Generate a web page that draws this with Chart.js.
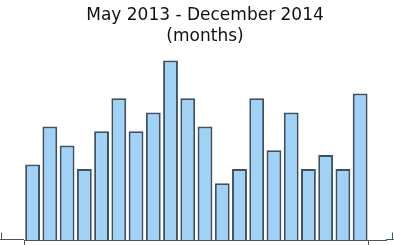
<!DOCTYPE html>
<html>
<head>
<meta charset="utf-8">
<script src="https://cdn.jsdelivr.net/npm/chart.js@4/dist/chart.umd.min.js"></script>
<style>
  html, body { margin: 0; padding: 0; background: #ffffff; }
  #wrap { width: 394px; height: 245px; }
</style>
</head>
<body>
<div id="wrap"><canvas id="c" width="394" height="245"></canvas></div>
<script>
const titleLines = ['May 2013 - December 2014', '(months)'];
const months = ['May 2013','Jun 2013','Jul 2013','Aug 2013','Sep 2013','Oct 2013','Nov 2013','Dec 2013',
                'Jan 2014','Feb 2014','Mar 2014','Apr 2014','May 2014','Jun 2014','Jul 2014','Aug 2014',
                'Sep 2014','Oct 2014','Nov 2014','Dec 2014'];
const counts = [16, 24, 20, 15, 23, 30, 23, 27, 38, 30, 24, 12, 15, 30, 19, 27, 15, 18, 15, 31];
const yMax = 40;

const axisColor = '#4a5560';

// trailing blank slot keeps the same spacing to the right edge of the strip
const labels = months.concat(['']);

const outerAxis = {
  id: 'outerAxis',
  afterDraw(chart) {
    const xs = chart.scales.x;
    const ctx = chart.ctx;
    const y = Math.round(chart.chartArea.bottom) - 0.5;
    const step = xs.getPixelForValue(1) - xs.getPixelForValue(0);
    const first = xs.getPixelForValue(0) - step / 2;
    const last = xs.getPixelForValue(months.length - 1) + step / 2;
    ctx.save();
    ctx.strokeStyle = axisColor;
    ctx.lineWidth = 1;
    ctx.beginPath();
    ctx.moveTo(0, y); ctx.lineTo(chart.chartArea.left, y);
    ctx.moveTo(chart.chartArea.right, y); ctx.lineTo(chart.width, y);
    const l = Math.round(first - step * 1.33) + 0.5;
    const r = Math.round(last + step * 1.33) + 0.5;
    ctx.moveTo(l, y); ctx.lineTo(l, y - 7);
    ctx.moveTo(r, y); ctx.lineTo(r, y - 7);
    ctx.stroke();
    ctx.restore();
  }
};

new Chart(document.getElementById('c'), {
  type: 'bar',
  data: {
    labels: labels,
    datasets: [{
      data: counts,
      backgroundColor: '#a0d2f6',
      borderColor: '#3f5063',
      borderWidth: 2,
      categoryPercentage: 0.86,
      barPercentage: 1.0
    }]
  },
  options: {
    responsive: false,
    animation: false,
    layout: { padding: { left: 24, right: 8, top: 0, bottom: 0 } },
    plugins: {
      legend: { display: false },
      tooltip: { enabled: false },
      title: {
        display: true,
        text: titleLines,
        color: '#111111',
        font: { family: 'DejaVu Sans', size: 17, weight: 'normal', lineHeight: 1.22 },
        padding: { top: 5, bottom: 4.5 }
      }
    },
    scales: {
      x: {
        offset: true,
        grid: {
          offset: true,
          drawOnChartArea: false,
          drawTicks: true,
          tickLength: 5,
          lineWidth: 1,
          color: (c) => (c.index === 0 || c.index === months.length) ? axisColor : 'rgba(0,0,0,0)'
        },
        border: { display: true, color: axisColor, width: 1 },
        ticks: { display: false }
      },
      y: {
        display: false,
        min: 0,
        max: yMax
      }
    }
  },
  plugins: [outerAxis]
});
</script>
</body>
</html>
